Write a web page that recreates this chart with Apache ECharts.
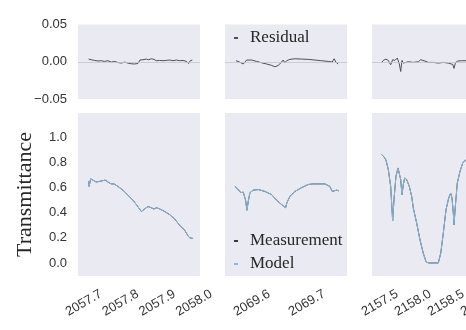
<!DOCTYPE html>
<html><head><meta charset="utf-8">
<script src="https://cdn.jsdelivr.net/npm/echarts@6/dist/echarts.min.js"></script>
<style>html,body{margin:0;padding:0;background:#fff}#c{width:466px;height:330px}</style>
</head><body><div id="c"></div>
<script>
// ---------- data ----------
// Panel 1 (2057.7 - 2058.0)
const p1X = [2057.7128,2057.7144,2057.7183,2057.7245,2057.7335,2057.7428,2057.7471,2057.7580,2057.7654,2057.7700,2057.7744,2057.7817,2057.7926,2057.8063,2057.8199,2057.8335,2057.8452,2057.8561,2057.8654,2057.8744,2057.8834,2057.8907,2057.8981,2057.9063,2057.9199,2057.9335,2057.9471,2057.9608,2057.9744,2057.9834,2057.9880,2057.9924,2057.9970];
const p1Model = [0.65,0.61,0.67,0.66,0.645,0.65,0.64,0.66,0.645,0.65,0.63,0.63,0.61,0.58,0.54,0.50,0.456,0.41,0.43,0.45,0.44,0.43,0.44,0.43,0.41,0.385,0.35,0.30,0.26,0.216,0.20,0.205,0.195];
const p1Meas = p1Model;
const p1ResX = [2057.7128,2057.7199,2057.7292,2057.7381,2057.7471,2057.7564,2057.7654,2057.7744,2057.7837,2057.7926,2057.8016,2057.8109,2057.8199,2057.8289,2057.8381,2057.8471,2057.8526,2057.8608,2057.8698,2057.8763,2057.8834,2057.8907,2057.8970,2057.9063,2057.9153,2057.9243,2057.9335,2057.9425,2057.9515,2057.9608,2057.9698,2057.9787,2057.9853,2057.9896,2057.9951];
const p1Res = [0.0036,0.0027,0.0018,0.001,0.0014,0.0005,0.0014,-0.0005,0.0005,-0.001,-0.0018,-0.0005,-0.0018,-0.0027,-0.003,-0.0023,0.0023,0.0027,0.0036,0.0027,0.004,0.0032,0.0014,0.0018,0.0014,0.0018,0.0023,0.0014,0.0023,0.0014,0.0018,0.0005,-0.0023,0.0014,0.0023];

// Panel 2 (2069.6 - 2069.7)
const p2X = [2069.5691,2069.5740,2069.5764,2069.5800,2069.5842,2069.5885,2069.5909,2069.5933,2069.5964,2069.6024,2069.6115,2069.6236,2069.6358,2069.6449,2069.6527,2069.6569,2069.6613,2069.6636,2069.6691,2069.6782,2069.6904,2069.7024,2069.7115,2069.7145,2069.7236,2069.7327,2069.7418,2069.7460,2069.7496,2069.7540,2069.7582];
const p2Model = [0.61,0.59,0.60,0.56,0.565,0.50,0.42,0.49,0.56,0.58,0.585,0.57,0.545,0.50,0.47,0.456,0.44,0.48,0.53,0.57,0.60,0.625,0.63,0.635,0.63,0.63,0.61,0.57,0.585,0.58,0.575];
const p2Meas = p2Model;
const p2ResX = [2069.5709,2069.5740,2069.5764,2069.5800,2069.5842,2069.5873,2069.5904,2069.5933,2069.5995,2069.6085,2069.6176,2069.6267,2069.6358,2069.6418,2069.6478,2069.6540,2069.6569,2069.6600,2069.6631,2069.6691,2069.6782,2069.6904,2069.7024,2069.7145,2069.7267,2069.7387,2069.7460,2069.7496,2069.7527,2069.7569];
const p2Res = [0.0014,0.0032,0,0.0014,-0.003,-0.002,0.0023,0.001,0.0023,0.0005,-0.0014,-0.003,-0.0049,-0.0068,-0.0049,-0.0004,0.0023,-0.0014,0.0014,0.0032,0.004,0.0036,0.0032,0.0023,0.0014,0.0005,-0.0004,0.004,-0.0004,-0.003];

// Panel 3 (2157.5 - 2159.0)
const p3X = [2157.526,2157.561,2157.591,2157.626,2157.662,2157.692,2157.712,2157.742,2157.773,2157.792,2157.814,2157.833,2157.853,2157.874,2157.905,2157.944,2157.980,2158.005,2158.056,2158.106,2158.156,2158.197,2158.232,2158.333,2158.383,2158.420,2158.459,2158.500,2158.541,2158.571,2158.591,2158.611,2158.621,2158.641,2158.671,2158.712,2158.753,2158.803,2158.900,2159.000];
const p3Model = [0.864,0.845,0.82,0.744,0.61,0.336,0.504,0.69,0.757,0.75,0.664,0.544,0.624,0.677,0.664,0.61,0.53,0.437,0.317,0.184,0.077,0.01,0.0,0.0,0.0,0.077,0.237,0.424,0.517,0.557,0.517,0.397,0.304,0.45,0.637,0.73,0.797,0.824,0.85,0.86];
const p3Meas = p3Model;
const p3ResX = [2157.526,2157.550,2157.591,2157.626,2157.662,2157.692,2157.727,2157.762,2157.792,2157.814,2157.833,2157.853,2157.883,2157.929,2158.005,2158.080,2158.117,2158.147,2158.182,2158.232,2158.308,2158.383,2158.459,2158.535,2158.602,2158.621,2158.641,2158.671,2158.738,2158.803];
const p3Res = [-0.0009,0.0018,0.0036,0.0018,-0.004,0.0027,0.0018,0.005,-0.0027,-0.0131,0.0018,-0.0018,-0.0009,0,-0.0009,0,0.0027,0.0036,0.0009,-0.0009,-0.0009,-0.0018,-0.0009,-0.0018,-0.0036,-0.009,-0.0018,0.0009,0.0014,0.0014];

// tick labels
const xTicks1 = [2057.7, 2057.8, 2057.9, 2058.0];
const xTicks2 = [2069.6, 2069.7];
const xTicks3 = [2157.5, 2158.0, 2158.5, 2159.0];
const resYTicks = [-0.05, 0.00, 0.05];
const transYTicks = [0.0, 0.2, 0.4, 0.6, 0.8, 1.0];
const yLabel = 'Transmittance';
const legendTop = ['Residual'];
const legendBottom = ['Measurement', 'Model'];
// axis ranges
const xMins = [2057.684, 2069.551, 2157.379];
const xMaxs = [2058.016, 2069.773, 2159.227];
const resRange = [-0.05, 0.05];
const transRange = [-0.104, 1.195];

// ---------- chart ----------
const zip = (xs, ys) => xs.map((x, i) => [x, ys[i]]);
const xTicks = [xTicks1, xTicks2, xTicks3];
const BG = '#eaeaf2';
const TXT = '#333333';
const C_MODEL = '#8bb9d8', C_MEAS = '#3a3a3a', C_RES = '#505050';
const lefts = [78, 225, 372];
const W = 122;
const grids = [], xAxes = [], yAxes = [], series = [];
for (let i = 0; i < 6; i++) {
  const p = i % 3, res = i < 3;
  grids.push({left: lefts[p], width: W, top: res ? 24.5 : 113, height: res ? 74.5 : 163,
    show: true, backgroundColor: BG, borderWidth: 0, containLabel: false, outerBoundsMode: 'none'});
  xAxes.push({type: 'value', gridIndex: i, min: xMins[p], max: xMaxs[p],
    axisLine: {show: false}, axisTick: {show: false}, splitLine: {show: false},
    axisLabel: res ? {show: false} : {show: true, customValues: xTicks[p], rotate: 30, align: 'center', verticalAlign: 'middle',
      margin: 27, hideOverlap: false,
      fontFamily: 'Liberation Sans', fontSize: 13, color: TXT,
      formatter: v => v.toFixed(1)}});
  const r = res ? resRange : transRange;
  const y = {type: 'value', gridIndex: i, min: r[0], max: r[1],
    axisLine: {show: false}, axisTick: {show: false}, splitLine: {show: false},
    axisLabel: {show: p === 0, customValues: res ? resYTicks : transYTicks, margin: 11,
      fontFamily: 'Liberation Sans', fontSize: 13, color: TXT, hideOverlap: false,
      formatter: res ? (v => (v < -1e-9 ? '\u2212' : '') + Math.abs(v).toFixed(2)) : (v => Math.abs(v).toFixed(1))}};
  if (i === 3) {
    y.name = yLabel; y.nameLocation = 'middle'; y.nameGap = 42;
    y.nameTextStyle = {fontFamily: 'Liberation Serif', fontSize: 22, color: '#262626'};
  }
  yAxes.push(y);
}
const resData = [zip(p1ResX, p1Res), zip(p2ResX, p2Res), zip(p3ResX, p3Res)];
const measData = [zip(p1X, p1Meas), zip(p2X, p2Meas), zip(p3X, p3Meas)];
const modelData = [zip(p1X, p1Model), zip(p2X, p2Model), zip(p3X, p3Model)];
for (let p = 0; p < 3; p++) {
  series.push({type: 'line', name: 'Residual', xAxisIndex: p, yAxisIndex: p, data: resData[p],
    showSymbol: false, symbol: 'none', lineStyle: {color: C_RES, width: 1}, itemStyle: {color: C_RES},
    markLine: {silent: true, symbol: ['none', 'none'], label: {show: false},
      lineStyle: {color: '#c4c4cc', width: 0.8, type: 'solid'}, data: [{yAxis: 0}]}});
  series.push({type: 'line', name: 'Measurement', xAxisIndex: p + 3, yAxisIndex: p + 3, data: measData[p],
    showSymbol: false, symbol: 'none', lineStyle: {color: C_MEAS, width: 1}, itemStyle: {color: C_MEAS}});
  series.push({type: 'line', name: 'Model', xAxisIndex: p + 3, yAxisIndex: p + 3, data: modelData[p],
    showSymbol: false, symbol: 'none', lineStyle: {color: C_MODEL, width: 1}, itemStyle: {color: C_MODEL}});
}
const legStyle = {fontFamily: 'Liberation Serif', fontSize: 17, color: '#262626', padding: [0, 0, 0, 7], lineHeight: 20};
const chart = echarts.init(document.getElementById('c'), null, {renderer: 'canvas'});
chart.setOption({
  animation: false,
  backgroundColor: '#ffffff',
  grid: grids, xAxis: xAxes, yAxis: yAxes, series: series,
  legend: [
    {data: legendTop, left: 234, top: 28, orient: 'vertical', padding: 0, icon: 'rect', itemWidth: 4, itemHeight: 2,
      selectedMode: false, textStyle: legStyle},
    {data: legendBottom, left: 234, top: 231, orient: 'vertical', padding: 0, itemGap: 3, icon: 'rect', itemWidth: 4, itemHeight: 2,
      selectedMode: false, textStyle: legStyle}
  ]
});
</script></body></html>
